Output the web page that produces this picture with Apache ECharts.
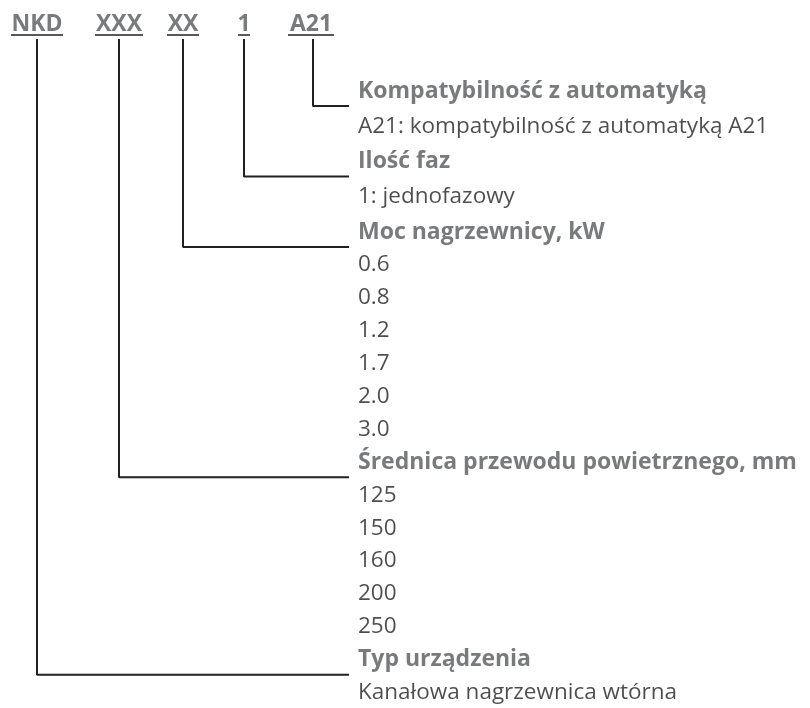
<!DOCTYPE html>
<html lang="pl">
<head>
  <meta charset="UTF-8">
  <title>NKD</title>
  <style>
    html, body, #chart {
      margin: 0;
      padding: 0;
      width: 100%;
      height: 100%;
      background: #fff;
    }
  </style>
</head>
<body>
<div id="chart"></div>

<script src="https://cdn.jsdelivr.net/npm/echarts@6/dist/echarts.min.js"></script>
<script>
  // kod produktu
  var codes = ['NKD', 'XXX', 'XX', '1', 'A21'];

  // sekcje (od góry), i który fragment kodu opisują
  var titles = ['Kompatybilność z automatyką', 'Ilość faz', 'Moc nagrzewnicy, kW', 'Średnica przewodu powietrznego, mm', 'Typ urządzenia'];
  var sectionCode = ['A21', '1', 'XX', 'XXX', 'NKD'];

  var automation = ['A21: kompatybilność z automatyką A21'];
  var phases = ['1: jednofazowy'];
  var power = ['0.6', '0.8', '1.2', '1.7', '2.0', '3.0'];
  var diameter = ['125', '150', '160', '200', '250'];
  var deviceType = ['Kanałowa nagrzewnica wtórna'];
  var items = [automation, phases, power, diameter, deviceType];

  // układ
  var codeX = [37, 119, 183, 244, 311];
  var codeY = 24;
  var underlineY = 35;
  var codeHalfW = [26, 24, 16, 6, 23];
  var lineTop = 39;
  var lineEndX = 349;
  var textX = 358;
  var fontFamily = '"Open Sans", sans-serif';

  function rowY(i) {
    return i <= 4 ? 106 + 35.25 * i : 247 + 32.9 * (i - 4);
  }

  var titleData = [], itemData = [], connectorSeries = [];
  var row = 0;
  titles.forEach(function (t, s) {
    var y = rowY(row);
    titleData.push({ name: t, value: [textX, y - 15] });
    var ci = codes.indexOf(sectionCode[s]);
    var x = ci === 4 ? 313 : codeX[ci];
    connectorSeries.push({
      type: 'line',
      symbol: 'none',
      silent: true,
      lineStyle: { color: '#231f20', width: 2 },
      data: [[x, lineTop], [x, y], [lineEndX, y]]
    });
    row++;
    items[s].forEach(function (v) {
      itemData.push({ name: v, value: [textX, rowY(row) - 15] });
      row++;
    });
  });

  var codeData = codes.map(function (c, i) {
    return { name: c, value: [codeX[i], codeY] };
  });

  var underlineSeries = codes.map(function (c, i) {
    return {
      type: 'line',
      symbol: 'none',
      silent: true,
      lineStyle: { color: '#58595b', width: 2 },
      data: [[codeX[i] - codeHalfW[i], underlineY], [codeX[i] + codeHalfW[i], underlineY]]
    };
  });

  var chart = echarts.init(document.getElementById('chart'));
  chart.setOption({
    animation: false,
    grid: { left: 0, right: 0, top: 0, bottom: 0 },
    xAxis: { type: 'value', min: 0, max: 810, show: false },
    yAxis: { type: 'value', min: 0, max: 708, inverse: true, show: false },
    series: connectorSeries.concat(underlineSeries).concat([
      {
        type: 'scatter',
        symbolSize: 0,
        silent: true,
        data: codeData,
        label: {
          show: true,
          position: 'inside',
          formatter: '{b}',
          color: '#58595b',
          fontFamily: fontFamily,
          fontWeight: 'bold',
          fontSize: 23
        }
      },
      {
        type: 'scatter',
        symbolSize: 0,
        silent: true,
        data: titleData,
        label: {
          show: true,
          position: 'right',
          distance: 0,
          formatter: '{b}',
          color: '#58595b',
          fontFamily: fontFamily,
          fontWeight: 'bold',
          fontSize: 23
        }
      },
      {
        type: 'scatter',
        symbolSize: 0,
        silent: true,
        data: itemData,
        label: {
          show: true,
          position: 'right',
          distance: 0,
          formatter: '{b}',
          color: '#231f20',
          fontFamily: fontFamily,
          fontWeight: 'normal',
          fontSize: 22.5
        }
      }
    ])
  });
</script>
</body>
</html>
